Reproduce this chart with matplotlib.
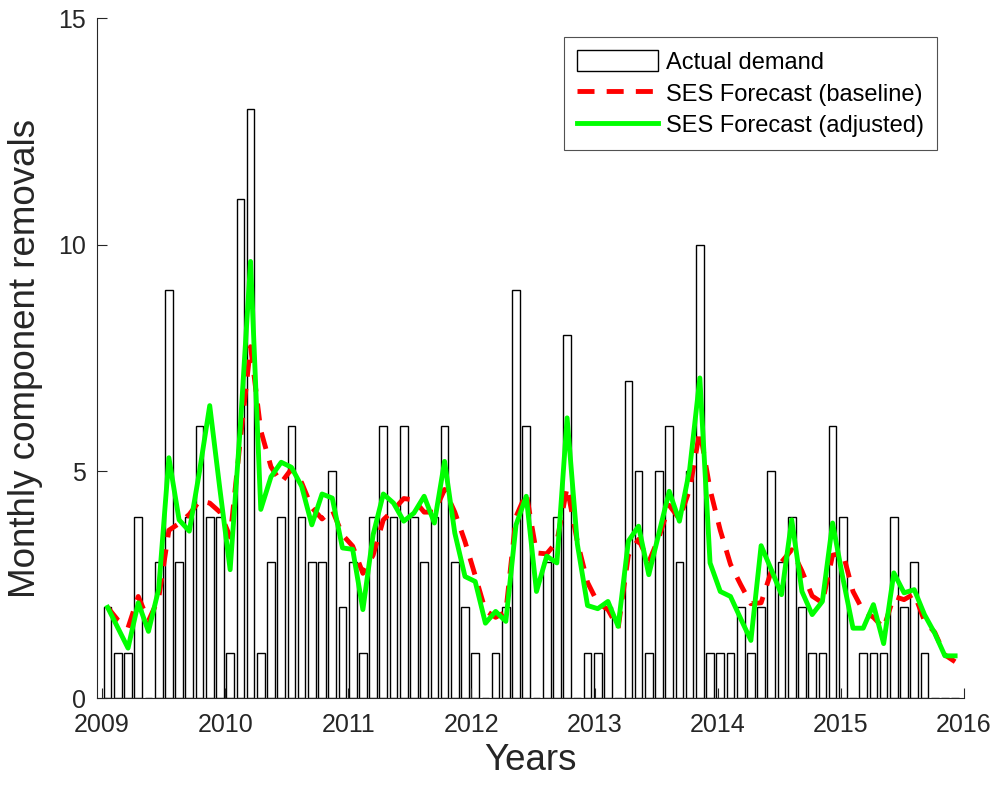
import numpy as np
import matplotlib.pyplot as plt

plt.rcParams['font.family'] = ['Liberation Sans', 'DejaVu Sans']

# monthly removals, Jan 2009 - Dec 2015
demand = [2, 1, 1, 4, 0, 3, 9, 3, 4, 6, 4, 4,
          1, 11, 13, 1, 3, 4, 6, 4, 3, 3, 5, 2,
          3, 1, 4, 6, 4, 6, 4, 3, 4, 6, 3, 2,
          1, 0, 1, 2, 9, 6, 0, 3, 4, 8, 0, 1,
          1, 2, 0, 7, 5, 1, 5, 6, 3, 5, 10, 1,
          1, 1, 2, 1, 2, 5, 3, 4, 2, 1, 1, 6,
          4, 0, 1, 1, 1, 4, 2, 3, 1, 0, 0, 0]

ses_baseline = [2.0, 1.72, 1.55, 2.24, 1.7, 2.2, 3.7, 3.85, 4.05, 4.35, 4.3, 4.1,
                3.55, 5.7, 7.75, 5.9, 5.1, 4.75, 5.05, 4.75, 4.2, 3.95, 4.15, 3.6,
                3.35, 2.75, 3.15, 3.93, 4.15, 4.4, 4.37, 4.1, 4.1, 4.6, 4.1, 3.45,
                2.7, 1.93, 1.78, 1.9, 4.0, 4.52, 3.2, 3.18, 3.45, 4.65, 3.45, 2.55,
                2.1, 1.95, 1.54, 3.15, 3.5, 3.0, 3.55, 4.25, 3.95, 4.6, 5.9, 4.6,
                3.7, 2.95, 2.5, 2.08, 2.1, 2.8, 3.0, 3.27, 2.8, 2.25, 2.1, 3.15,
                3.2, 2.35, 1.92, 1.78, 1.54, 2.24, 2.17, 2.3, 1.7, 1.45, 0.95, 0.8]

ses_adjusted = [2.0, 1.55, 1.1, 2.1, 1.47, 2.4, 5.3, 3.93, 3.68, 5.0, 6.45, 4.6,
                2.83, 6.0, 9.63, 4.16, 4.88, 5.2, 5.09, 4.67, 3.82, 4.5, 4.41, 3.31,
                3.28, 1.95, 3.6, 4.5, 4.3, 3.9, 4.08, 4.45, 3.86, 5.22, 3.64, 2.68,
                2.57, 1.65, 1.91, 1.69, 3.82, 4.45, 2.35, 3.13, 2.98, 6.18, 3.4, 2.04,
                1.97, 2.13, 1.58, 3.46, 3.79, 2.72, 3.64, 4.56, 3.9, 5.04, 7.06, 2.98,
                2.35, 2.24, 1.75, 1.27, 3.36, 2.83, 2.28, 3.93, 2.35, 1.84, 2.13, 3.86,
                2.65, 1.54, 1.54, 2.06, 1.2, 2.76, 2.32, 2.39, 1.84, 1.43, 0.93, 0.93]

year_ticks = [2009, 2010, 2011, 2012, 2013, 2014, 2015, 2016]

# month positions in decimal years
months = np.arange(len(demand))
t = 2009 + (months + 0.55) / 12.06

fig = plt.figure(figsize=(9.98, 7.91), dpi=100)
ax = fig.add_axes([97 / 998, 93 / 791, 867 / 998, 680 / 791])

bars = ax.bar(t, demand, width=0.75 / 12, color='white', edgecolor='black',
              linewidth=1.0, zorder=1)
base_line, = ax.plot(t, ses_baseline, color='red', linestyle=(0, (3.5, 2.5)),
                     linewidth=3.5, zorder=2)
adj_line, = ax.plot(t, ses_adjusted, color='#00ff00', linewidth=3.5, zorder=3)

ax.set_xlim(2009 - 5 / 123.14, 2016)
ax.set_ylim(0, 15)
ax.set_xticks(year_ticks)
ax.set_yticks([0, 5, 10, 15])
ax.tick_params(direction='in', length=7, width=0.8, labelsize=18,
               colors='#262626')
ax.tick_params(axis='x', pad=11)
ax.tick_params(axis='y', pad=8)
for s in ['top', 'right']:
    ax.spines[s].set_visible(False)
for s in ['left', 'bottom']:
    ax.spines[s].set_color('#262626')
    ax.spines[s].set_linewidth(0.8)

ax.set_xlabel('Years', fontsize=26.5, color='#262626', labelpad=4)
ax.set_ylabel('Monthly component removals', fontsize=26.5, color='#262626',
              labelpad=11)

leg = ax.legend([bars, base_line, adj_line],
                ['Actual demand', 'SES Forecast (baseline)', 'SES Forecast (adjusted)'],
                loc='upper right', bbox_to_anchor=(937 / 998, 1 - 37 / 791),
                bbox_transform=fig.transFigure, fontsize=17, frameon=True,
                fancybox=False, edgecolor='#262626', handlelength=3.4,
                handleheight=1.0, handletextpad=0.35, labelspacing=0.35,
                borderpad=0.55, borderaxespad=0)
leg.get_frame().set_linewidth(0.8)

fig.savefig('out.png', dpi=100)
